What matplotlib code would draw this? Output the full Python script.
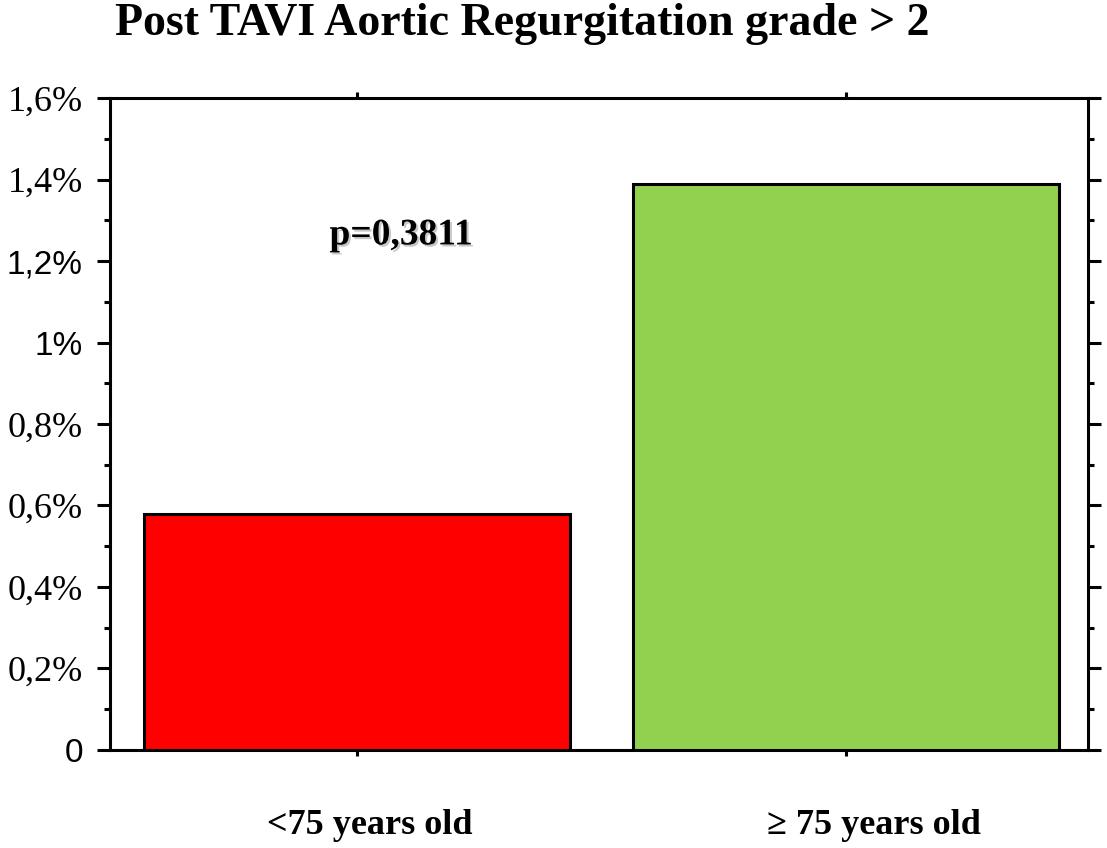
import numpy as np
import matplotlib
matplotlib.use('Agg')
import matplotlib.pyplot as plt
import matplotlib.patheffects as pe
import matplotlib.transforms as mtransforms
from matplotlib.ticker import MultipleLocator

# data
categories = ['<75 years old', '\u2265 75 years old']
values = [0.58, 1.39]  # percent
colors = ['#ff0000', '#92d050']
ytick_vals = [0, 0.2, 0.4, 0.6, 0.8, 1.0, 1.2, 1.4, 1.6]
ytick_labels = ['0', '0,2%', '0,4%', '0,6%', '0,8%', '1%', '1,2%', '1,4%', '1,6%']
sans_labels = ['0', '1%', '1,2%']
p_text = 'p=0,3811'
title = 'Post TAVI Aortic Regurgitation grade > 2'

fig = plt.figure(figsize=(11.07, 8.48), dpi=100)
ax = fig.add_axes([0.0994, 0.1156, 0.8834, 0.7688])

x = np.arange(len(categories))
ax.bar(x, values, width=0.87, color=colors, edgecolor='black', linewidth=2.2, zorder=3)

ax.set_xlim(-0.505, 1.495)
ax.set_ylim(0, 1.6)

for s in ax.spines.values():
    s.set_linewidth(2.2)

ax.set_yticks(ytick_vals)
ax.set_yticklabels(ytick_labels)
ax.yaxis.set_minor_locator(MultipleLocator(0.1))
ax.tick_params(axis='y', which='major', direction='out', length=9.5, width=2.2,
               left=True, right=True, labelsize=26, pad=10)
ax.tick_params(axis='y', which='minor', direction='out', length=4.5, width=2.2,
               left=True, right=True)
for lab in ax.get_yticklabels():
    if lab.get_text() in sans_labels:
        lab.set_fontfamily('Liberation Sans')
        lab.set_fontsize(24)
    else:
        lab.set_fontfamily('Liberation Serif')

ax.set_xticks(x)
ax.set_xticklabels(categories, fontfamily='Liberation Serif', fontweight='bold', fontsize=26)
ax.tick_params(axis='x', which='major', direction='out', length=4.5, width=2.2,
               bottom=True, top=True, pad=38)
# labels sit a bit right of the tick marks in the original
for lab, dx in zip(ax.get_xticklabels(), [0.13, 0.28]):
    lab.set_transform(lab.get_transform() + mtransforms.ScaledTranslation(dx, 0, fig.dpi_scale_trans))

ax.text(0.09, 1.264, p_text, fontfamily='Liberation Serif', fontweight='bold', fontsize=27,
        ha='center', va='center',
        path_effects=[pe.withSimplePatchShadow(offset=(1.5, -1.5), shadow_rgbFace='#888888', alpha=0.45)])

fig.text(0.472, 0.972, title, fontfamily='Liberation Serif', fontweight='bold', fontsize=33,
         ha='center', va='center')

fig.savefig('out.png', dpi=100)
